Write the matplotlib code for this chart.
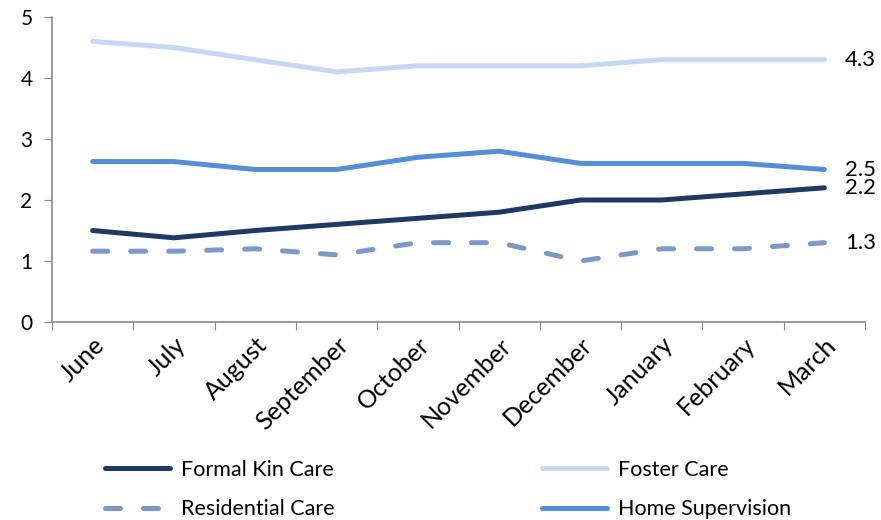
import matplotlib
matplotlib.use("Agg")
import matplotlib.pyplot as plt
import numpy as np

plt.rcParams['font.family'] = ['Lato', 'DejaVu Sans']

months = ["June", "July", "August", "September", "October", "November",
          "December", "January", "February", "March"]
formal_kin = [1.5, 1.38, 1.5, 1.6, 1.7, 1.8, 2.0, 2.0, 2.1, 2.2]
foster = [4.6, 4.5, 4.3, 4.1, 4.2, 4.2, 4.2, 4.3, 4.3, 4.3]
residential = [1.16, 1.16, 1.2, 1.1, 1.3, 1.3, 1.0, 1.2, 1.2, 1.3]
home_sup = [2.63, 2.63, 2.5, 2.5, 2.7, 2.8, 2.6, 2.6, 2.6, 2.5]

fig = plt.figure(figsize=(8.81, 5.20), dpi=100)
ax = fig.add_axes([52/881, 1-322/520, (865-52)/881, (322-17)/520])

x = np.arange(len(months))
lw = 3.6
l1, = ax.plot(x, formal_kin, color="#1F3864", lw=lw, solid_capstyle="round", label="Formal Kin Care")
l2, = ax.plot(x, foster, color="#C6D9F1", lw=lw, solid_capstyle="round", label="Foster Care")
l3, = ax.plot(x, residential, color="#7B98C8", lw=lw, dash_capstyle="round",
              dashes=(3.0, 4.6), label="Residential Care")
l4, = ax.plot(x, home_sup, color="#558ED5", lw=lw, solid_capstyle="round", label="Home Supervision")

# value labels at the last month
for series in (foster, home_sup, formal_kin, residential):
    ax.annotate(f"{series[-1]:.1f}", xy=(x[-1], series[-1]), xytext=(15, 0),
                textcoords="offset points", va="center", ha="left", fontsize=16,
                annotation_clip=False)

ax.set_xlim(-0.5, len(months) - 0.5)
ax.set_ylim(0, 5)
ax.set_yticks(range(0, 6))
ax.tick_params(axis="y", labelsize=15, length=6, color="#888888", direction="out", pad=8)

# category boundaries carry the tick marks, labels sit at the centres
ax.set_xticks(np.arange(-0.5, len(months) + 0.5, 1.0))
ax.set_xticklabels([])
ax.tick_params(axis="x", which="major", length=6, color="#888888", direction="out")
ax.set_xticks(x, minor=True)
ax.set_xticklabels(months, minor=True, rotation=45, ha="right", va="top",
                   rotation_mode="anchor", fontsize=18)
ax.tick_params(axis="x", which="minor", length=0, pad=8)

for side in ("top", "right"):
    ax.spines[side].set_visible(False)
for side in ("left", "bottom"):
    ax.spines[side].set_color("#888888")
    ax.spines[side].set_linewidth(1.2)

leg_kw = dict(loc="center left", frameon=False, fontsize=15.5, handlelength=3.0,
              labelspacing=0.9, handletextpad=0.55, borderpad=0, borderaxespad=0)
leg1 = fig.legend(handles=[l1, l3], bbox_to_anchor=(105/881, 1-489.5/520), **leg_kw)
leg2 = fig.legend(handles=[l2, l4], bbox_to_anchor=(542/881, 1-489.5/520), **leg_kw)

fig.savefig("out.png", dpi=100)
